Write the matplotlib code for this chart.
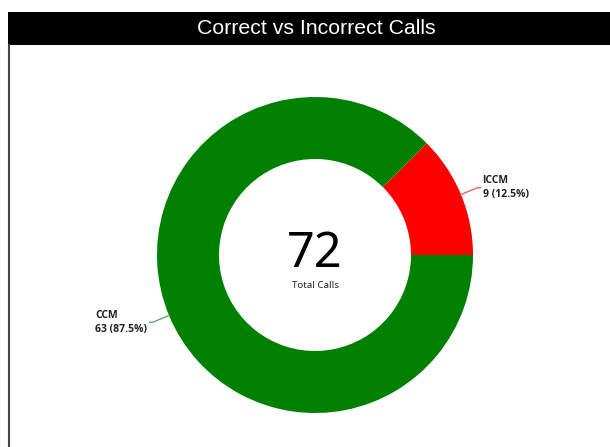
import matplotlib.pyplot as plt
import numpy as np
from matplotlib.patches import Rectangle

# data
labels = ['ICCM', 'CCM']
values = [9, 63]
colors = ['#ff0000', '#008000']
line_colors = ['#e06666', '#5fae5f']
title = 'Correct vs Incorrect Calls'

W, H = 610, 447
fig = plt.figure(figsize=(W / 100, H / 100), dpi=100)
ax = fig.add_axes([0, 0, 1, 1])

# frame + title bar
ax.add_patch(Rectangle((8, H - 45), W - 8, 33, facecolor='black', edgecolor='none'))
ax.plot([8.5, 8.5], [0, H - 45], color='#444444', lw=1.5)
ax.text(316, H - 29, title, color='white', ha='center', va='center',
        fontsize=15.3, family='Liberation Sans')

# donut
cx, cy, r = 315, H - 255, 158
total = sum(values)
wedges, _ = ax.pie(values, colors=colors, startangle=0, counterclock=True,
                   center=(cx, cy), radius=r, frame=True,
                   wedgeprops=dict(width=r - 96, edgecolor='none'))
ax.set_xlim(0, W)
ax.set_ylim(0, H)
ax.set_aspect('equal')
ax.axis('off')

for w, lab, v, lc in zip(wedges, labels, values, line_colors):
    ang = np.deg2rad((w.theta1 + w.theta2) / 2)
    x0, y0 = cx + r * np.cos(ang), cy + r * np.sin(ang)
    x1, y1 = cx + (r + 18) * np.cos(ang), cy + (r + 18) * np.sin(ang)
    right = np.cos(ang) > 0
    x2 = x1 + (3 if right else -3)
    ax.plot([x0, x1, x2], [y0, y1, y1], color=lc, lw=1)
    tx = x2 + (2 if right else -2)
    ax.text(tx, y1, f'{lab}\n{v} ({v / total * 100:.1f}%)',
            ha='left' if right else 'right', va='center', multialignment='left',
            fontsize=7.5, fontweight='bold', color='#222222',
            linespacing=1.35, family='Open Sans')

ax.text(cx, cy + 1, str(total), ha='center', va='center', fontsize=35,
        color='black', family='Noto Sans')
ax.text(cx, cy - 31, 'Total Calls', ha='center', va='center', fontsize=7,
        color='#222222', family='Noto Sans')

fig.savefig('out.png', dpi=100)
